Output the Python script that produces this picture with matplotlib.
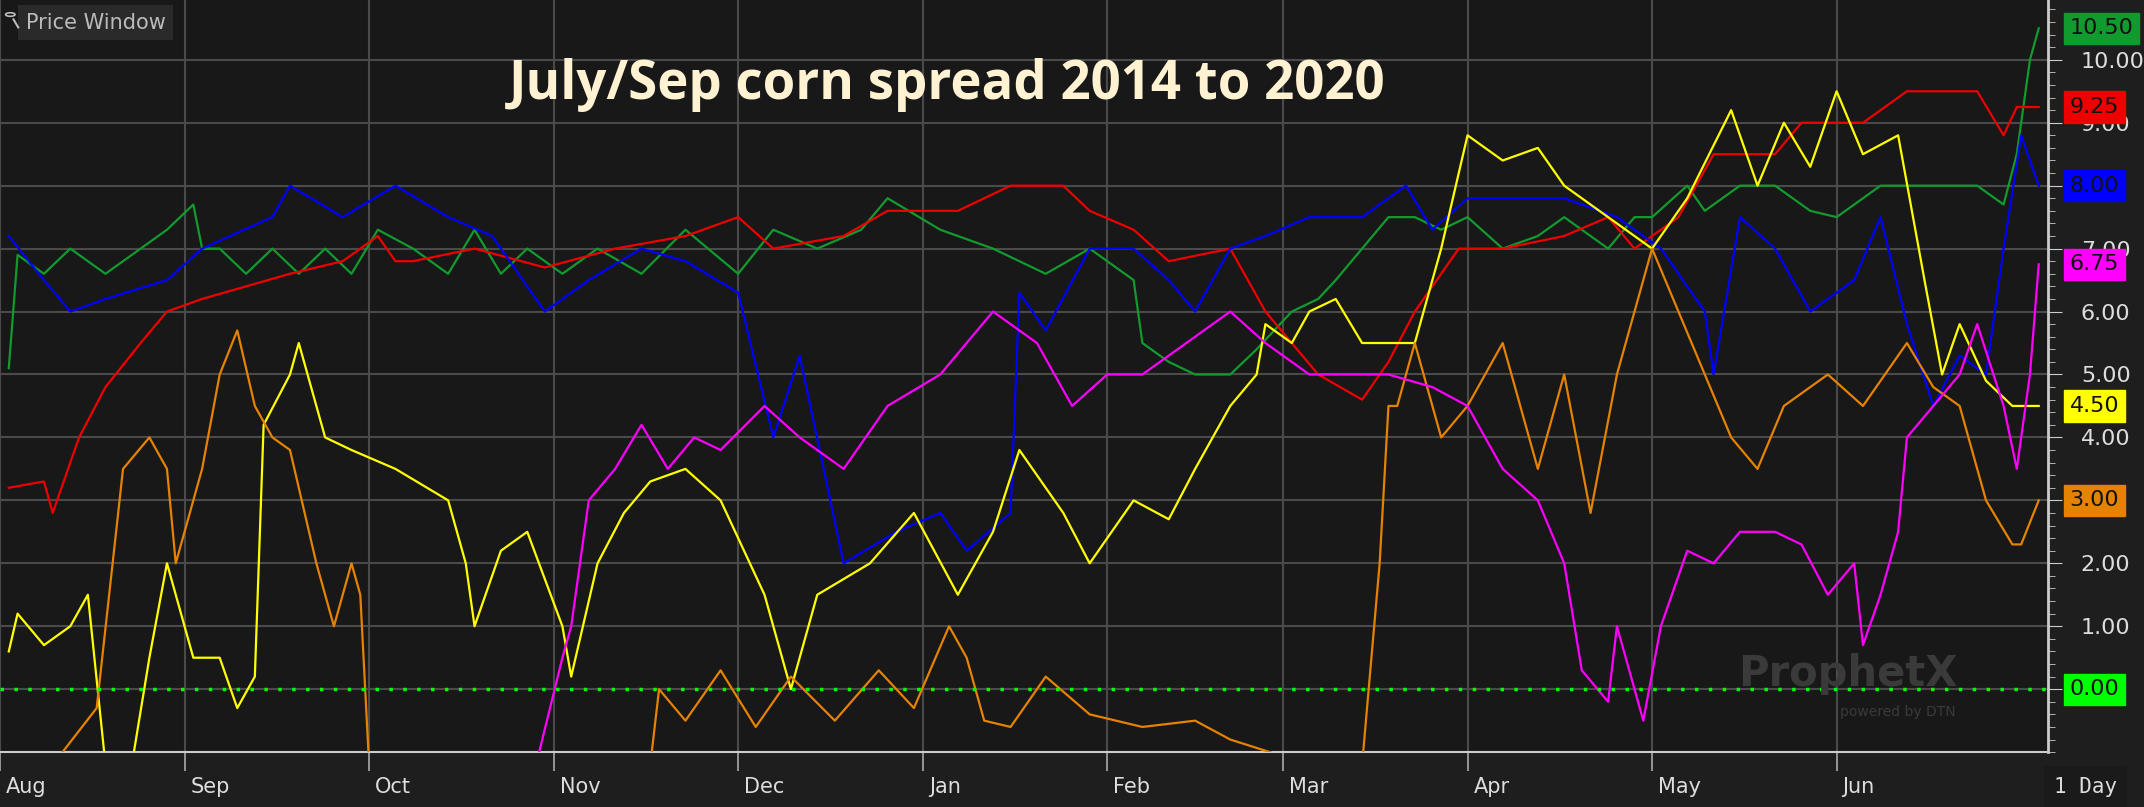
import matplotlib
matplotlib.use("Agg")
import matplotlib.pyplot as plt
import matplotlib.transforms as mt
from matplotlib.patches import Circle
from matplotlib.lines import Line2D
import numpy as np

months = ["Aug","Sep","Oct","Nov","Dec","Jan","Feb","Mar","Apr","May","Jun"]
month_days = [0,21,42,63,84,105,126,146,167,188,209]

green_x = [1,2,5,8,12,16,19,22,23,25,28,31,34,37,40,43,47,51,54,57,60,64,68,73,78,84,88,93,98,101,107,113,119,124,129,130,133,136,140,143,147,150,152,155,158,161,164,167,171,175,178,183,186,188,192,194,198,202,206,209,214,217,221,225,228,229.5,231,232]
green_y = [5.1,6.9,6.6,7.0,6.6,7.0,7.3,7.7,7.0,7.0,6.6,7.0,6.6,7.0,6.6,7.3,7.0,6.6,7.3,6.6,7.0,6.6,7.0,6.6,7.3,6.6,7.3,7.0,7.3,7.8,7.3,7.0,6.6,7.0,6.5,5.5,5.2,5.0,5.0,5.4,6.0,6.2,6.5,7.0,7.5,7.5,7.3,7.5,7.0,7.2,7.5,7.0,7.5,7.5,8.0,7.6,8.0,8.0,7.6,7.5,8.0,8.0,8.0,8.0,7.7,8.5,10.0,10.5]

red_x = [1,5,6,9,12,16,19,23,28,33,39,43,45,47,54,62,70,78,84,88,96,101,109,115,121,124,129,133,140,144,147,150,155,158,161,166,171,178,183,186,191,195,202,205,212,217,225,228,229.5,232]
red_y = [3.2,3.3,2.8,4.0,4.8,5.5,6.0,6.2,6.4,6.6,6.8,7.2,6.8,6.8,7.0,6.7,7.0,7.2,7.5,7.0,7.2,7.6,7.6,8.0,8.0,7.6,7.3,6.8,7.0,6.0,5.5,5.0,4.6,5.2,6.0,7.0,7.0,7.2,7.5,7.0,7.5,8.5,8.5,9.0,9.0,9.5,9.5,8.8,9.25,9.25]

blue_x = [1,5,8,12,19,23,31,33,39,45,51,56,62,67,73,78,84,88,91,96,102,107,110,115,116,119,124,129,133,136,140,144,149,155,160,163,167,178,184,189,194,195,198,202,206,211,214,217,220,223,226,228,230,232]
blue_y = [7.2,6.5,6.0,6.2,6.5,7.0,7.5,8.0,7.5,8.0,7.5,7.2,6.0,6.5,7.0,6.8,6.3,4.0,5.3,2.0,2.5,2.8,2.2,2.8,6.3,5.7,7.0,7.0,6.5,6.0,7.0,7.2,7.5,7.5,8.0,7.3,7.8,7.8,7.5,7.0,6.0,5.0,7.5,7.0,6.0,6.5,7.5,5.8,4.5,5.3,5.0,7.0,8.8,8.0]

yellow_x = [1,2,5,8,10,12,15,17,19,22,25,27,29,30,33,34,37,40,45,51,53,54,57,60,64,65,68,71,74,78,82,87,90,93,99,104,109,113,116,121,124,129,133,136,140,143,144,147,149,152,155,161,164,167,171,175,178,183,188,192,197,200,203,206,209,212,216,219,221,223,226,229,232]
yellow_y = [0.6,1.2,0.7,1.0,1.5,-1.2,-1.2,0.5,2.0,0.5,0.5,-0.3,0.2,4.2,5.0,5.5,4.0,3.8,3.5,3.0,2.0,1.0,2.2,2.5,1.0,0.2,2.0,2.8,3.3,3.5,3.0,1.5,0.0,1.5,2.0,2.8,1.5,2.5,3.8,2.8,2.0,3.0,2.7,3.5,4.5,5.0,5.8,5.5,6.0,6.2,5.5,5.5,7.0,8.8,8.4,8.6,8.0,7.5,7.0,7.8,9.2,8.0,9.0,8.3,9.5,8.5,8.8,6.5,5.0,5.8,4.9,4.5,4.5]

orange_x = [6,11,14,17,19,20,23,25,27,29,31,33,36,38,40,41,42,
            74,75,78,82,86,90,95,100,104,108,110,112,115,119,124,130,136,140,
            149,155,157,158,159,161,164,167,171,175,178,181,184,188,191,194,197,200,203,208,212,217,220,223,226,229,230,232]
orange_y = [-1.2,-0.3,3.5,4.0,3.5,2.0,3.5,5.0,5.7,4.5,4.0,3.8,2.0,1.0,2.0,1.5,-1.2,
            -1.2,0.0,-0.5,0.3,-0.6,0.2,-0.5,0.3,-0.3,1.0,0.5,-0.5,-0.6,0.2,-0.4,-0.6,-0.5,-0.8,
            -1.2,-1.2,2.0,4.5,4.5,5.5,4.0,4.5,5.5,3.5,5.0,2.8,5.0,7.0,6.0,5.0,4.0,3.5,4.5,5.0,4.5,5.5,4.8,4.5,3.0,2.3,2.3,3.0]
orange_break = 17

magenta_x = [61,64,65,67,70,73,76,79,82,87,91,96,101,107,113,118,122,126,130,135,140,144,149,153,158,163,167,171,175,178,180,183,184,187,189,192,195,198,202,205,208,211,212,214,216,217,220,223,225,228,229.5,231,232]
magenta_y = [-1.2,0.5,1.0,3.0,3.5,4.2,3.5,4.0,3.8,4.5,4.0,3.5,4.5,5.0,6.0,5.5,4.5,5.0,5.0,5.5,6.0,5.5,5.0,5.0,5.0,4.8,4.5,3.5,3.0,2.0,0.3,-0.2,1.0,-0.5,1.0,2.2,2.0,2.5,2.5,2.3,1.5,2.0,0.7,1.5,2.5,4.0,4.5,5.0,5.8,4.5,3.5,5.0,6.75]

last_vals = [10.50, 9.25, 8.00, 6.75, 4.50, 3.00, 0.00]
last_cols = ["#119a2e", "#ee0000", "#0000ff", "#ff00ff", "#ffff00", "#e58200", "#00ff00"]
hidden_ticks = [0, 3, 8]

fig = plt.figure(figsize=(21.44, 8.07), dpi=100, facecolor="#1e1e1e")
ax = fig.add_axes([0.0, 0.068, 0.955, 0.932])
ax.set_facecolor("#181818")
ax.set_xlim(0, 233)
ax.set_ylim(-1.0, 10.95)

for m in month_days:
    ax.axvline(m, color="#4a4a4a", lw=1.5, zorder=1)
for v in range(0, 11):
    ax.axhline(v, color="#4a4a4a", lw=1.5, zorder=1)

lw = 1.6
ax.plot(green_x, green_y, color="#119a2e", lw=lw, zorder=3)
ax.plot(red_x, red_y, color="#ee0000", lw=lw, zorder=3)
ax.plot(blue_x, blue_y, color="#0000ff", lw=lw, zorder=3)
ax.plot(yellow_x, yellow_y, color="#ffff00", lw=lw, zorder=3)
ax.plot(orange_x[:orange_break], orange_y[:orange_break], color="#e58200", lw=lw, zorder=3)
ax.plot(orange_x[orange_break:], orange_y[orange_break:], color="#e58200", lw=lw, zorder=3)
ax.plot(magenta_x, magenta_y, color="#ff00ff", lw=lw, zorder=3)
ax.axhline(0, color="#00ff00", lw=2.5, ls=(0, (1, 3)), zorder=4)

ax.set_xticks(month_days)
ax.set_xticklabels(months, ha="left", color="#dddddd", fontsize=15, family="DejaVu Sans")
ax.tick_params(axis="x", direction="out", length=14, width=1.2, color="#aaaaaa", pad=4)
off = mt.ScaledTranslation(6/100, 0, fig.dpi_scale_trans)
for lab in ax.get_xticklabels():
    lab.set_transform(lab.get_transform() + off)

ax.yaxis.tick_right()
ax.set_yticks(range(0, 11))
ax.set_yticklabels(["" if v in hidden_ticks else f"{v:.2f}" for v in range(0, 11)],
                   color="#dddddd", fontsize=16, family="DejaVu Sans")
ax.set_yticks(np.arange(-1.0, 11.0, 0.2), minor=True)
ax.tick_params(axis="y", which="major", direction="out", length=10, color="#cccccc", pad=14)
ax.tick_params(axis="y", which="minor", direction="out", length=5, color="#cccccc")
for s in ["top", "left"]:
    ax.spines[s].set_visible(False)
ax.spines["right"].set_color("#cccccc")
ax.spines["right"].set_linewidth(2)
ax.spines["bottom"].set_color("#cccccc")
ax.spines["bottom"].set_linewidth(1.5)

for v, c in zip(last_vals, last_cols):
    ax.annotate(f"{v:.2f}", xy=(1.0, v), xycoords=("axes fraction", "data"),
                xytext=(16, 0), textcoords="offset points", va="center", ha="left",
                fontsize=16, color="#111111", family="DejaVu Sans",
                bbox=dict(boxstyle="square,pad=0.25", fc=c, ec=c), zorder=10,
                annotation_clip=False)

fig.text(0.442, 0.895, "July/Sep corn spread 2014 to 2020", ha="center", va="center",
         fontsize=38, fontweight="bold", color="#fff2d2", family="Open Sans")
fig.text(0.012, 0.972, "Price Window", ha="left", va="center", fontsize=15,
         color="#bbbbbb", family="DejaVu Sans",
         bbox=dict(boxstyle="square,pad=0.35", fc="#2a2a2a", ec="none"))
fig.add_artist(Circle((0.0048, 0.982), 0.0022, transform=fig.transFigure, fill=False,
                      ec="#bbbbbb", lw=1.2, zorder=20))
fig.add_artist(Line2D([0.0063, 0.0085], [0.976, 0.966], transform=fig.transFigure,
                      color="#bbbbbb", lw=1.5, zorder=20))
fig.text(0.958, 0.025, "1 Day", ha="left", va="center", fontsize=15, color="#dddddd",
         family="DejaVu Sans Mono", bbox=dict(boxstyle="square,pad=0.5", fc="#1a1a1a", ec="none"))
fig.text(0.862, 0.165, "ProphetX", ha="center", va="center", fontsize=30, fontweight="bold",
         color="#3a3a3a", family="DejaVu Sans")
fig.text(0.885, 0.118, "powered by DTN", ha="center", va="center", fontsize=10,
         color="#3a3a3a", family="DejaVu Sans")

fig.savefig("out.png", dpi=100, facecolor=fig.get_facecolor())
